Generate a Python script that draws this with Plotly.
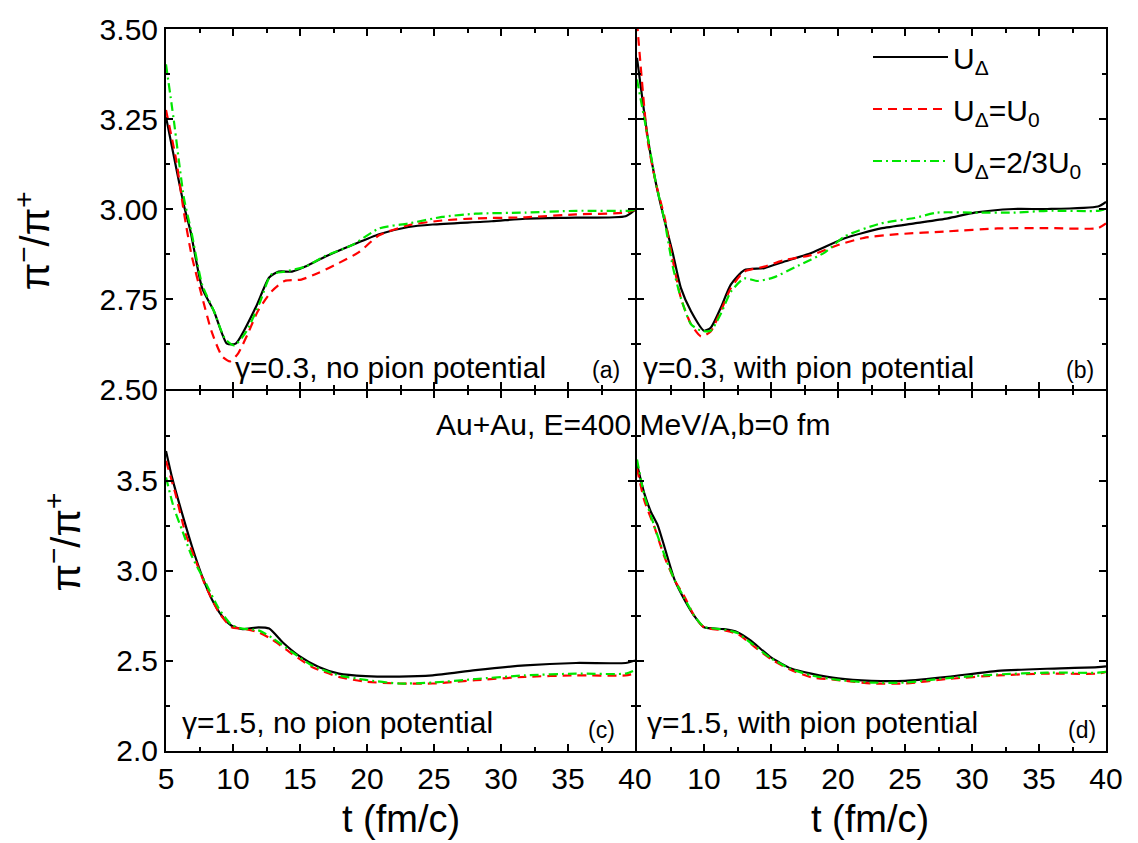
import plotly.graph_objects as go
from plotly.subplots import make_subplots

# ---------------- data ----------------
# panel (a): gamma=0.3, no pion potential
t_a_black = [5, 6.34, 6.84, 7.7, 8.58, 9.55, 10.2, 11.7, 12.7, 13.4, 14.4, 15.4, 16.9, 18.9, 20.9, 23.1, 24.9, 29.3, 31.8, 35.6, 39.3, 40]
v_a_black = [3.256, 3.01, 2.936, 2.78, 2.716, 2.626, 2.626, 2.727, 2.81, 2.826, 2.826, 2.84, 2.868, 2.90, 2.93, 2.95, 2.957, 2.966, 2.973, 2.976, 2.98, 2.998]
t_a_red = [5, 5.75, 6.34, 6.9, 7.7, 8.4, 9.2, 9.8, 10.4, 11.1, 11.85, 12.85, 13.85, 15.1, 16.4, 17.9, 19.4, 20.9, 23.1, 25.6, 28.1, 31.8, 35.6, 39.3, 40]
v_a_red = [3.275, 3.138, 2.99, 2.873, 2.755, 2.66, 2.59, 2.577, 2.60, 2.653, 2.716, 2.77, 2.80, 2.804, 2.823, 2.85, 2.88, 2.927, 2.955, 2.968, 2.974, 2.977, 2.985, 2.99, 2.998]
t_a_green = [5, 5.57, 6.34, 6.9, 7.7, 8.58, 9.4, 10.1, 11.0, 12.0, 12.85, 13.85, 15.4, 16.9, 18.9, 20.9, 23.1, 25.6, 28.1, 31.8, 35.6, 39.3, 40]
v_a_green = [3.402, 3.25, 3.03, 2.936, 2.79, 2.716, 2.64, 2.621, 2.66, 2.74, 2.818, 2.826, 2.84, 2.87, 2.90, 2.946, 2.96, 2.978, 2.987, 2.99, 2.995, 2.995, 2.998]

# panel (b): gamma=0.3, with pion potential
t_b_black = [5, 5.8, 6.42, 7.04, 7.66, 8.28, 9.03, 10.0, 10.5, 11.27, 12.0, 13.0, 14.5, 16.0, 18.0, 20.5, 23.2, 25.7, 28.2, 30.2, 33.1, 35.6, 39.4, 40]
v_b_black = [3.42, 3.199, 3.07, 2.97, 2.879, 2.78, 2.716, 2.662, 2.67, 2.727, 2.79, 2.83, 2.836, 2.854, 2.878, 2.919, 2.946, 2.96, 2.974, 2.99, 3.0, 3.0, 3.007, 3.02]
t_b_red = [5, 5.8, 6.42, 7.04, 7.66, 8.28, 9.03, 9.78, 10.5, 11.27, 12.0, 13.0, 14.5, 16.0, 18.0, 20.0, 21.95, 24.45, 28.2, 31.9, 35.6, 39.4, 40]
v_b_red = [3.52, 3.19, 3.07, 2.98, 2.86, 2.752, 2.68, 2.646, 2.66, 2.718, 2.78, 2.826, 2.84, 2.858, 2.872, 2.90, 2.92, 2.93, 2.938, 2.946, 2.947, 2.947, 2.96]
t_b_green = [5, 5.8, 6.42, 7.04, 7.66, 8.28, 9.03, 9.78, 10.5, 11.27, 12.0, 13.0, 14.0, 15.2, 17.0, 19.0, 20.5, 23.2, 25.7, 27.4, 30.2, 33.1, 35.6, 39.4, 40]
v_b_green = [3.36, 3.2, 3.07, 2.97, 2.842, 2.752, 2.68, 2.662, 2.662, 2.71, 2.77, 2.807, 2.80, 2.81, 2.842, 2.879, 2.924, 2.96, 2.975, 2.99, 2.99, 2.99, 2.995, 2.995, 3.0]

# panel (c): gamma=1.5, no pion potential
t_c_black = [5, 5.45, 6.2, 6.94, 7.7, 8.43, 9.18, 9.9, 10.7, 11.9, 12.7, 13.7, 14.9, 16.4, 17.9, 19.9, 22.4, 24.9, 28.1, 31.8, 35.6, 39.3, 40]
v_c_black = [3.667, 3.52, 3.32, 3.136, 2.97, 2.842, 2.75, 2.696, 2.677, 2.687, 2.68, 2.604, 2.53, 2.467, 2.43, 2.416, 2.413, 2.42, 2.449, 2.476, 2.489, 2.489, 2.503]
t_c_red = [5, 5.7, 6.45, 7.2, 7.96, 8.95, 9.9, 10.7, 11.9, 12.9, 14.4, 15.9, 17.9, 19.9, 22.4, 24.9, 28.1, 31.8, 35.6, 39.3, 40]
v_c_red = [3.612, 3.43, 3.21, 3.06, 2.916, 2.77, 2.687, 2.68, 2.66, 2.62, 2.54, 2.467, 2.412, 2.385, 2.375, 2.375, 2.393, 2.412, 2.42, 2.42, 2.43]
t_c_green = [5, 5.57, 6.2, 6.94, 7.96, 8.95, 9.9, 10.7, 11.9, 12.9, 14.4, 15.9, 17.9, 19.9, 22.4, 24.9, 28.1, 31.8, 35.6, 39.3, 40]
v_c_green = [3.52, 3.355, 3.227, 3.08, 2.934, 2.79, 2.70, 2.68, 2.67, 2.63, 2.55, 2.475, 2.42, 2.395, 2.375, 2.38, 2.40, 2.42, 2.43, 2.43, 2.45]

# panel (d): gamma=1.5, with pion potential
t_d_black = [5, 5.55, 6.04, 6.54, 7.04, 7.8, 8.53, 9.28, 10.0, 11.5, 12.5, 13.5, 15.0, 16.5, 18.0, 20.0, 22.5, 25.0, 28.2, 31.9, 35.6, 39.4, 40]
v_d_black = [3.593, 3.43, 3.328, 3.255, 3.136, 2.952, 2.842, 2.75, 2.687, 2.677, 2.66, 2.613, 2.52, 2.458, 2.43, 2.403, 2.39, 2.39, 2.412, 2.445, 2.457, 2.466, 2.47]
t_d_red = [5, 5.55, 6.29, 7.04, 7.8, 8.53, 9.28, 10.0, 11.5, 12.5, 13.5, 15.0, 16.5, 18.0, 20.0, 22.5, 25.0, 28.2, 31.9, 35.6, 39.4, 40]
v_d_red = [3.57, 3.39, 3.246, 3.08, 2.95, 2.86, 2.75, 2.687, 2.67, 2.65, 2.595, 2.51, 2.45, 2.41, 2.394, 2.375, 2.375, 2.40, 2.42, 2.43, 2.43, 2.44]
t_d_green = [5, 5.55, 6.29, 7.04, 7.8, 8.53, 9.28, 10.0, 11.5, 12.5, 13.5, 15.0, 16.5, 18.0, 20.0, 22.5, 25.0, 28.2, 31.9, 35.6, 39.4, 40]
v_d_green = [3.62, 3.42, 3.25, 3.09, 2.95, 2.85, 2.75, 2.69, 2.675, 2.655, 2.60, 2.515, 2.455, 2.42, 2.395, 2.38, 2.38, 2.405, 2.425, 2.435, 2.435, 2.44]

series_names = ["U<sub>Δ</sub>", "U<sub>Δ</sub>=U<sub>0</sub>", "U<sub>Δ</sub>=2/3U<sub>0</sub>"]
panel_texts = ["γ=0.3, no pion potential", "γ=0.3, with pion potential",
               "γ=1.5, no pion potential", "γ=1.5, with pion potential"]
panel_tags = ["(a)", "(b)", "(c)", "(d)"]
x_ticks_left = [5, 10, 15, 20, 25, 30, 35, 40]
x_ticks_right = [10, 15, 20, 25, 30, 35, 40]
y_ticks_top = [2.50, 2.75, 3.00, 3.25, 3.50]
y_ticks_bottom = [2.0, 2.5, 3.0, 3.5]
system_text = "Au+Au, E=400 MeV/A,b=0 fm"
x_title = "t (fm/c)"
y_title = "π<sup>−</sup>/π<sup>+</sup>"

# ---------------- figure ----------------
FONT = "Arial, Liberation Sans, sans-serif"
styles = [dict(color="black", width=2.2, dash="solid"),
          dict(color="#ff0000", width=2.2, dash="9px,6px"),
          dict(color="#00e600", width=2.2, dash="9px,4px,2px,4px")]

panels = [
    (1, 1, [(t_a_black, v_a_black), (t_a_red, v_a_red), (t_a_green, v_a_green)]),
    (1, 2, [(t_b_black, v_b_black), (t_b_red, v_b_red), (t_b_green, v_b_green)]),
    (2, 1, [(t_c_black, v_c_black), (t_c_red, v_c_red), (t_c_green, v_c_green)]),
    (2, 2, [(t_d_black, v_d_black), (t_d_red, v_d_red), (t_d_green, v_d_green)]),
]

W, H = 1138, 843
ML, MR, MT, MB = 166, 32, 20, 92
PW, PH = W - ML - MR, H - MT - MB

fig = make_subplots(rows=2, cols=2, horizontal_spacing=2 / PW, vertical_spacing=2 / PH)

for pi, (r, c, data) in enumerate(panels):
    for si, (tt, vv) in enumerate(data):
        fig.add_trace(go.Scatter(
            x=tt, y=vv, mode="lines", name=series_names[si],
            line=dict(shape="spline", smoothing=0.6, **styles[si]),
            showlegend=(pi == 1), legendgroup=f"g{si}",
        ), row=r, col=c)

axis_common = dict(showline=True, linecolor="black", linewidth=2, mirror="allticks",
                   ticks="inside", ticklen=7, tickwidth=1.5, tickcolor="black",
                   showgrid=False, zeroline=False,
                   tickfont=dict(family=FONT, size=30, color="black"))

for r in (1, 2):
    for c in (1, 2):
        xa = dict(axis_common, range=[5, 40],
                  minor=dict(dtick=2.5, tick0=5, ticks="inside", ticklen=4, tickcolor="black", tickwidth=1.5))
        if r == 2:
            xa.update(tickvals=x_ticks_left if c == 1 else x_ticks_right, showticklabels=True)
        else:
            xa.update(tickvals=x_ticks_left, showticklabels=False)
        fig.update_xaxes(row=r, col=c, **xa)
        if r == 1:
            ya = dict(axis_common, range=[2.5, 3.5], tickvals=y_ticks_top, tickformat=".2f",
                      minor=dict(dtick=0.125, tick0=2.5, ticks="inside", ticklen=4, tickcolor="black", tickwidth=1.5))
        else:
            ya = dict(axis_common, range=[2.0, 4.0], tickvals=y_ticks_bottom, tickformat=".1f",
                      minor=dict(dtick=0.25, tick0=2.0, ticks="inside", ticklen=4, tickcolor="black", tickwidth=1.5))
        ya["showticklabels"] = (c == 1)
        fig.update_yaxes(row=r, col=c, **ya)


def px(xp):
    return (xp - ML) / PW


def py(yp):
    return (H - MB - yp) / PH


ann = []
txt_font = dict(family=FONT, size=30, color="black")
tag_font = dict(family=FONT, size=23, color="black")
# panel descriptions
for (xl, yc, s) in [(233, 363, panel_texts[0]), (641, 363, panel_texts[1]),
                    (180, 722, panel_texts[2]), (645, 722, panel_texts[3])]:
    ann.append(dict(x=px(xl), y=py(yc), xref="paper", yref="paper", text=s, showarrow=False,
                    xanchor="left", yanchor="middle", font=txt_font))
for (xc, yc, s) in [(606, 365, panel_tags[0]), (1080, 365, panel_tags[1]),
                    (601, 730, panel_tags[2]), (1082, 730, panel_tags[3])]:
    ann.append(dict(x=px(xc), y=py(yc), xref="paper", yref="paper", text=s, showarrow=False,
                    xanchor="center", yanchor="middle", font=tag_font))
ann.append(dict(x=px(434), y=py(420), xref="paper", yref="paper", text=system_text, showarrow=False,
                xanchor="left", yanchor="middle", font=txt_font))
# axis titles
for xc in (401, 870):
    ann.append(dict(x=px(xc), y=py(820), xref="paper", yref="paper", text=x_title, showarrow=False,
                    xanchor="center", yanchor="middle", font=dict(family=FONT, size=38, color="black")))
for (xc, yc) in [(33, 235), (63, 540)]:
    ann.append(dict(x=px(xc), y=py(yc), xref="paper", yref="paper", text=y_title, showarrow=False,
                    textangle=-90, xanchor="center", yanchor="middle",
                    font=dict(family=FONT, size=40, color="black")))

fig.update_layout(
    width=W, height=H, margin=dict(l=ML, r=MR, t=MT, b=MB),
    paper_bgcolor="white", plot_bgcolor="white",
    annotations=ann,
    legend=dict(x=px(868), y=py(22), xanchor="left", yanchor="top",
                bgcolor="rgba(0,0,0,0)", font=dict(family=FONT, size=30, color="black"),
                traceorder="grouped", tracegroupgap=10, itemwidth=75),
    font=dict(family=FONT, color="black"),
)

fig.write_html("out.html")
